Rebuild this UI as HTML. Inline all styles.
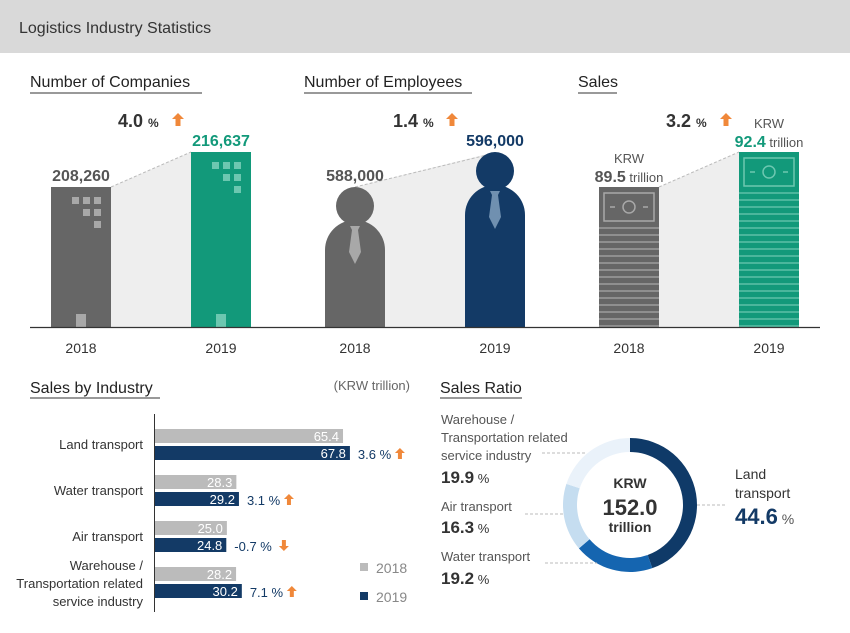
<!DOCTYPE html>
<html><head><meta charset="utf-8"><style>
html,body{margin:0;padding:0;background:#fff;}
svg{display:block;font-family:"Liberation Sans",sans-serif;}
</style></head><body>
<svg id="s" width="850" height="633" viewBox="0 0 850 633" xmlns="http://www.w3.org/2000/svg">
<rect x="0" y="0" width="850" height="53" fill="#d9d9d9"/>
<text x="19" y="33" font-size="16" fill="#333">Logistics Industry Statistics</text>

<g font-size="16" fill="#222">
<text x="30" y="87">Number of Companies</text>
<line x1="30" y1="93" x2="202" y2="93" stroke="#333" stroke-width="1"/>
<text x="304" y="87">Number of Employees</text>
<line x1="304" y1="93" x2="472" y2="93" stroke="#333" stroke-width="1"/>
<text x="578" y="87">Sales</text>
<line x1="578" y1="93" x2="617" y2="93" stroke="#333" stroke-width="1"/>
</g>

<!-- Companies -->
<polygon points="111,187 191,152 191,327 111,327" fill="#eeeeee"/>
<line x1="111" y1="187" x2="191" y2="152" stroke="#bbb" stroke-dasharray="3,2"/>
<rect x="51" y="187" width="60" height="140" fill="#666"/>
<rect x="191" y="152" width="60" height="175" fill="#12997a"/>
<g fill="#a8a8a8"><rect x="72" y="197" width="7" height="7"/><rect x="83" y="197" width="7" height="7"/><rect x="94" y="197" width="7" height="7"/><rect x="83" y="209" width="7" height="7"/><rect x="94" y="209" width="7" height="7"/><rect x="94" y="221" width="7" height="7"/><rect x="76" y="314" width="10" height="13"/></g>
<g fill="#6cc7b0"><rect x="212" y="162" width="7" height="7"/><rect x="223" y="162" width="7" height="7"/><rect x="234" y="162" width="7" height="7"/><rect x="223" y="174" width="7" height="7"/><rect x="234" y="174" width="7" height="7"/><rect x="234" y="186" width="7" height="7"/><rect x="216" y="314" width="10" height="13"/></g>
<text x="81" y="181" text-anchor="middle" font-size="16" font-weight="bold" fill="#555">208,260</text>
<text x="221" y="146" text-anchor="middle" font-size="16" font-weight="bold" fill="#12997a">216,637</text>
<text x="118" y="127" font-size="18" font-weight="bold" fill="#333">4.0 <tspan font-size="12">%</tspan></text>
<path d="M178 113 l6 6 h-3.5 v7 h-5 v-7 h-3.5z" fill="#f0883a"/>

<!-- Employees -->
<polygon points="355,187 495,152 495,327 355,327" fill="#eeeeee"/>
<line x1="355" y1="187" x2="487" y2="155" stroke="#bbb" stroke-dasharray="3,2"/>
<g>
<path d="M325 327 V250 A30 30 0 0 1 385 250 V327 Z" fill="#666"/>
<circle cx="355" cy="206" r="19" fill="#666"/>
<path d="M350 226 h10 l-2 4 l3 22 l-6 12 l-6 -12 l3 -22z" fill="#a8a8a8"/>
</g>
<g>
<path d="M465 327 V215 A30 30 0 0 1 525 215 V327 Z" fill="#133a66"/>
<circle cx="495" cy="171" r="19" fill="#133a66"/>
<path d="M490 191 h10 l-2 4 l3 22 l-6 12 l-6 -12 l3 -22z" fill="#7090b0"/>
</g>
<text x="355" y="181" text-anchor="middle" font-size="16" font-weight="bold" fill="#555">588,000</text>
<text x="495" y="146" text-anchor="middle" font-size="16" font-weight="bold" fill="#133a66">596,000</text>
<text x="393" y="127" font-size="18" font-weight="bold" fill="#333">1.4 <tspan font-size="12">%</tspan></text>
<path d="M452 113 l6 6 h-3.5 v7 h-5 v-7 h-3.5z" fill="#f0883a"/>

<!-- Sales -->
<polygon points="659,187 739,152 739,327 659,327" fill="#eeeeee"/>
<line x1="659" y1="187" x2="739" y2="152" stroke="#bbb" stroke-dasharray="3,2"/>
<rect x="599" y="187" width="60" height="140" fill="#666"/>
<rect x="739" y="152" width="60" height="175" fill="#12997a"/>
<g id="stripes"></g>
<g fill="none" stroke="#a8a8a8" stroke-width="1.5"><rect x="604" y="193" width="50" height="28"/><circle cx="629" cy="207" r="6"/><line x1="610" y1="207" x2="615" y2="207"/><line x1="643" y1="207" x2="648" y2="207"/></g>
<g fill="none" stroke="#6cc7b0" stroke-width="1.5"><rect x="744" y="158" width="50" height="28"/><circle cx="769" cy="172" r="6"/><line x1="750" y1="172" x2="755" y2="172"/><line x1="783" y1="172" x2="788" y2="172"/></g>
<text x="629" y="163" text-anchor="middle" font-size="13" fill="#555">KRW</text>
<text x="629" y="182" text-anchor="middle" font-size="13" fill="#555"><tspan font-size="16" font-weight="bold">89.5</tspan> trillion</text>
<text x="769" y="128" text-anchor="middle" font-size="13" fill="#555">KRW</text>
<text x="769" y="147" text-anchor="middle" font-size="13" fill="#555"><tspan font-size="16" font-weight="bold" fill="#12997a">92.4</tspan> trillion</text>
<text x="666" y="127" font-size="18" font-weight="bold" fill="#333">3.2 <tspan font-size="12">%</tspan></text>
<path d="M726 113 l6 6 h-3.5 v7 h-5 v-7 h-3.5z" fill="#f0883a"/>

<line x1="30" y1="327.5" x2="820" y2="327.5" stroke="#333" stroke-width="1.2"/>
<g font-size="14" fill="#333" text-anchor="middle">
<text x="81" y="353">2018</text><text x="221" y="353">2019</text>
<text x="355" y="353">2018</text><text x="495" y="353">2019</text>
<text x="629" y="353">2018</text><text x="769" y="353">2019</text>
</g>

<!-- Sales by industry -->
<text x="30" y="393" font-size="16" fill="#222">Sales by Industry</text>
<line x1="30" y1="398" x2="160" y2="398" stroke="#333"/>
<text x="410" y="390" text-anchor="end" font-size="13" fill="#666">(KRW trillion)</text>
<line x1="154.5" y1="414" x2="154.5" y2="612" stroke="#333"/>
<g id="bars"></g>
<rect x="360" y="563" width="8" height="8" fill="#bbb"/>
<text x="376" y="573" font-size="14" fill="#888">2018</text>
<rect x="360" y="592" width="8" height="8" fill="#133a66"/>
<text x="376" y="602" font-size="14" fill="#888">2019</text>

<!-- Sales Ratio -->
<text x="440" y="393" font-size="16" fill="#222">Sales Ratio</text>
<line x1="440" y1="398" x2="522" y2="398" stroke="#333"/>
<g id="donut"></g>
<g font-size="13" fill="#555">
<text x="441" y="424">Warehouse /</text><text x="441" y="442">Transportation related</text><text x="441" y="460">service industry</text>
<text x="441" y="483" fill="#333"><tspan font-size="17" font-weight="bold">19.9</tspan> %</text>
<text x="441" y="511">Air transport</text>
<text x="441" y="533" fill="#333"><tspan font-size="17" font-weight="bold">16.3</tspan> %</text>
<text x="441" y="561">Water transport</text>
<text x="441" y="584" fill="#333"><tspan font-size="17" font-weight="bold">19.2</tspan> %</text>
<text x="735" y="479" font-size="14" fill="#333">Land</text>
<text x="735" y="498" font-size="14" fill="#333">transport</text>
<text x="735" y="524" font-size="14" fill="#555"><tspan font-size="22" font-weight="bold" fill="#133a66">44.6</tspan> %</text>
</g>
<g stroke="#bbb" stroke-dasharray="3,2">
<line x1="542" y1="453" x2="585" y2="453"/><line x1="525" y1="514" x2="565" y2="514"/><line x1="545" y1="563" x2="597" y2="563"/><line x1="697" y1="505" x2="725" y2="505"/>
</g>
<g text-anchor="middle" font-weight="bold" fill="#333">
<text x="630" y="488" font-size="14">KRW</text>
<text x="630" y="515" font-size="22">152.0</text>
<text x="630" y="532" font-size="14">trillion</text>
</g>
</svg>
<script>
const categories=["Land transport","Water transport","Air transport","Warehouse / Transportation related service industry"];
const values2018=[65.4,28.3,25.0,28.2];
const values2019=[67.8,29.2,24.8,30.2];
const changes=["3.6 %","3.1 %","-0.7 %","7.1 %"];
const ratioLabels=["Land transport","Water transport","Air transport","Warehouse"];
const ratioValues=[44.6,19.2,16.3,19.9];
const NS="http://www.w3.org/2000/svg";
function mk(t,a,p){const e=document.createElementNS(NS,t);for(const k in a)e.setAttribute(k,a[k]);p.appendChild(e);return e;}
// stripes on sales bars
const st=document.getElementById('stripes');
for(let y=228;y<327;y+=7){mk('line',{x1:599,x2:659,y1:y,y2:y,stroke:'#a8a8a8','stroke-width':1.2},st);}
for(let y=193;y<327;y+=7){mk('line',{x1:739,x2:799,y1:y,y2:y,stroke:'#6cc7b0','stroke-width':1.2},st);}
// bars
const g=document.getElementById('bars');
const x0=155, k=2.875;
const xs=v=>x0+v*k;
const catLines=[["Land transport"],["Water transport"],["Air transport"],["Warehouse /","Transportation related","service industry"]];
categories.forEach((c,i)=>{
  const y=429+i*46;
  const r1=mk('rect',{x:x0,y:y,width:xs(values2018[i])-x0,height:14,fill:'#bbbbbb'},g);
  
  
  const r2=mk('rect',{x:x0,y:y+17,width:xs(values2019[i])-x0,height:14,fill:'#133a66'},g);
  
  
  const t1=mk('text',{x:xs(values2018[i])-4,y:y+12,'text-anchor':'end','font-size':13,fill:'#fff'},g);t1.textContent=values2018[i].toFixed(1);
  const t2=mk('text',{x:xs(values2019[i])-4,y:y+29,'text-anchor':'end','font-size':13,fill:'#fff'},g);t2.textContent=values2019[i].toFixed(1);
  const px=xs(values2019[i])+8;
  const t3=mk('text',{x:px,y:y+30,'font-size':13,fill:'#133a66'},g);t3.textContent=changes[i];
  
  
  const ax=px+changes[i].length*7.6+4;
  const up=changes[i][0]!=='-';
  mk('path',{d:up?`M${ax} ${y+19} l5 5 h-3 v6 h-4 v-6 h-3z`:`M${ax} ${y+30} l5 -5 h-3 v-6 h-4 v6 h-3z`,fill:'#f0883a'},g);
  const lines=catLines[i];
  const cy=lines.length===1?y+20:y+3;
  lines.forEach((l,j)=>{const t=mk('text',{x:143,y:cy+j*18,'text-anchor':'end','font-size':13,fill:'#333'},g);t.textContent=l;});
});
// donut
const d=document.getElementById('donut');
const cx=630,cy=505,R=67,r=53;const cols=['#0f3a68','#1565b0','#c5ddf0','#eaf2fa'];
const tot=ratioValues.reduce((a,b)=>a+b,0);let a0=-Math.PI/2;
ratioValues.forEach((v,i)=>{
  const a1=a0+v/tot*2*Math.PI;const lg=(a1-a0)>Math.PI?1:0;
  const P=(rad,a)=>[cx+rad*Math.cos(a),cy+rad*Math.sin(a)];
  const [x1,y1]=P(R,a0),[x2,y2]=P(R,a1),[x3,y3]=P(r,a1),[x4,y4]=P(r,a0);
  const p=mk('path',{d:`M${x1} ${y1} A${R} ${R} 0 ${lg} 1 ${x2} ${y2} L${x3} ${y3} A${r} ${r} 0 ${lg} 0 ${x4} ${y4}Z`,fill:cols[i]},d);
  
  
  a0=a1;
});
</script>
</body></html>
